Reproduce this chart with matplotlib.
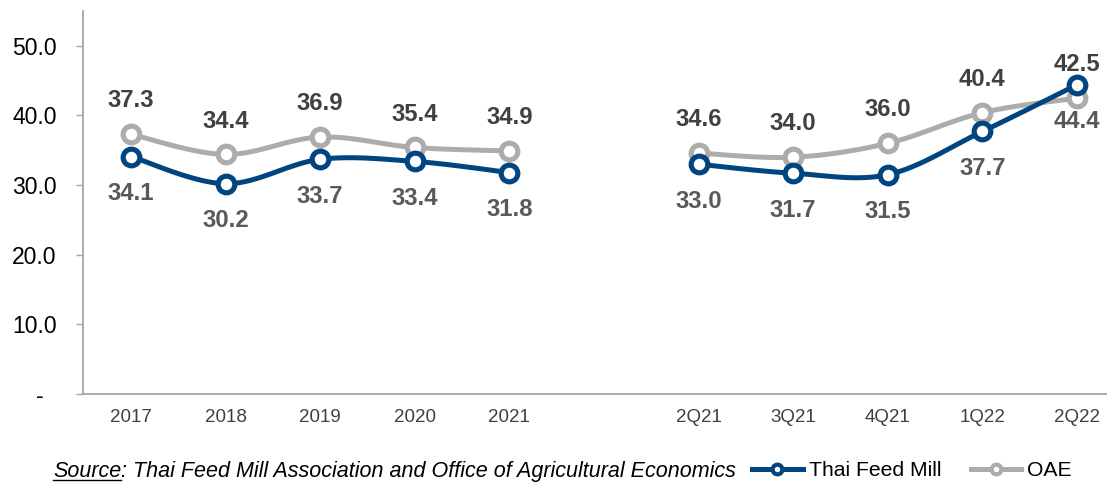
import numpy as np
import matplotlib
matplotlib.use("Agg")
import matplotlib.pyplot as plt
from matplotlib.lines import Line2D

plt.rcParams['font.family'] = ['Liberation Sans', 'DejaVu Sans']

categories = ["2017", "2018", "2019", "2020", "2021", "", "2Q21", "3Q21", "4Q21", "1Q22", "2Q22"]
thai_feed_mill = [34.1, 30.2, 33.7, 33.4, 31.8, None, 33.0, 31.7, 31.5, 37.7, 44.4]
oae = [37.3, 34.4, 36.9, 35.4, 34.9, None, 34.6, 34.0, 36.0, 40.4, 42.5]
yticks = [0, 10, 20, 30, 40, 50]
ytick_labels = ["-  ", "10.0", "20.0", "30.0", "40.0", "50.0"]
source_text = ": Thai Feed Mill Association and Office of Agricultural Economics"

BLUE = "#004580"
GRAY = "#AEABAB"
W, H = 1107, 482

fig = plt.figure(figsize=(W / 100, H / 100), dpi=100)
ax = fig.add_axes([83 / W, 88 / H, 1 - 83 / W, (394 - 11) / H])


def catmull(xs, ys, n=30):
    xs = np.asarray(xs, float)
    ys = np.asarray(ys, float)
    pts = np.column_stack([xs, ys])
    ox, oy = [], []
    m = len(pts)
    for i in range(m - 1):
        p1, p2 = pts[i], pts[i + 1]
        p0 = pts[i - 1] if i > 0 else p1
        p3 = pts[i + 2] if i + 2 < m else p2
        c1 = p1 + (p2 - p0) / 6
        c2 = p2 - (p3 - p1) / 6
        t = np.linspace(0, 1, n)[:, None]
        b = (1 - t) ** 3 * p1 + 3 * (1 - t) ** 2 * t * c1 + 3 * (1 - t) * t ** 2 * c2 + t ** 3 * p2
        ox.extend(b[:, 0])
        oy.extend(b[:, 1])
    return ox, oy


def segments(vals):
    segs, cur = [], []
    for i, v in enumerate(vals):
        if v is None:
            if cur:
                segs.append(cur)
            cur = []
        else:
            cur.append((i, v))
    if cur:
        segs.append(cur)
    return segs


lw = 3.6
for vals, color, zo in [(oae, GRAY, 3), (thai_feed_mill, BLUE, 4)]:
    for seg in segments(vals):
        xs = [s[0] for s in seg]
        ys = [s[1] for s in seg]
        sx, sy = catmull(xs, ys)
        ax.plot(sx, sy, color=color, lw=lw, solid_capstyle='round', zorder=zo)
        ax.plot(xs, ys, ls='none', marker='o', ms=12, mew=3.7, mec=color, mfc='white', zorder=zo + 0.5)

# data labels
for i, v in enumerate(oae):
    if v is not None:
        ax.annotate(f"{v:.1f}", (i, v), xytext=(0, 24), textcoords='offset points',
                    ha='center', va='center', fontsize=17.2, fontweight='bold', color='#404040', zorder=6)
for i, v in enumerate(thai_feed_mill):
    if v is not None:
        ax.annotate(f"{v:.1f}", (i, v), xytext=(0, -26.5), textcoords='offset points',
                    ha='center', va='center', fontsize=17.2, fontweight='bold', color='#595959', zorder=6)

ax.set_ylim(0, 55)
ax.set_xlim(-0.507, 10.317)
ax.set_yticks(yticks)
ax.set_yticklabels(ytick_labels, fontsize=16.5, color='black')
ax.set_xticks(range(len(categories)))
ax.set_xticklabels(categories, fontsize=13.5, color='#404040')
ax.tick_params(axis='x', length=0, pad=11)
ax.tick_params(axis='y', length=5, width=1, color='#A6A6A6', pad=14)
for s in ['top', 'right']:
    ax.spines[s].set_visible(False)
for s in ['left', 'bottom']:
    ax.spines[s].set_color('#A6A6A6')
    ax.spines[s].set_linewidth(1.3)

# Source text with underline
fy = 1 - 477 / H
t1 = fig.text(53 / W, fy, "Source", fontsize=15.5, style='italic', ha='left', va='baseline')
fig.canvas.draw()
r = fig.canvas.get_renderer()
bb = t1.get_window_extent(r)
fig.text(bb.x1 / W, fy, source_text, fontsize=15.5, style='italic', ha='left', va='baseline')
fig.add_artist(Line2D([bb.x0 / W, bb.x1 / W], [1 - 480 / H] * 2, color='black', lw=1))

# legend
handles = [Line2D([], [], color=BLUE, lw=lw, marker='o', ms=7, mew=3, mec=BLUE, mfc='white'),
           Line2D([], [], color=GRAY, lw=lw, marker='o', ms=7, mew=3, mec=GRAY, mfc='white')]
fig.legend(handles, ["Thai Feed Mill", "OAE"], loc='center left', bbox_to_anchor=(752 / W, 1 - 471 / H),
           ncol=2, frameon=False, fontsize=15.2, handlelength=2.4, handletextpad=0.28,
           columnspacing=1.4, borderaxespad=0, borderpad=0)

fig.savefig("out.png", dpi=100)
